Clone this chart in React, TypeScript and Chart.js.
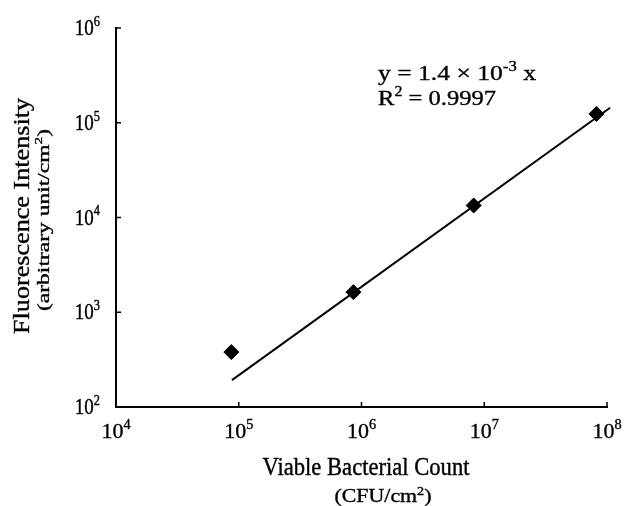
import React, { useEffect, useRef } from "react";
import { Chart, registerables } from "chart.js";

Chart.register(...registerables);

const FONT = '"Liberation Serif", "Times New Roman", serif';

const viableCounts = [8.7e4, 8.6e5, 8.2e6, 8.2e7];
const fluorescence = [380, 1630, 13400, 124000];

// Trend line end points
const fitCounts = [8.8e4, 1.06e8];
const fitFluorescence = [192, 1.44e5];

// Axis ticks (decades)
const xTickExponents = ["4", "5", "6", "7", "8"];
const yTickExponents = ["2", "3", "4", "5", "6"];
const tickBase = "10";

type Seg = { t: string; sup?: boolean };

const xTitle: Seg[] = [{ t: "Viable Bacterial Count" }];
const xSubtitle: Seg[] = [{ t: "(CFU/cm" }, { t: "2", sup: true }, { t: ")" }];
const yTitle: Seg[] = [{ t: "Fluorescence Intensity" }];
const ySubtitle: Seg[] = [{ t: "(arbitrary unit/cm" }, { t: "2", sup: true }, { t: ")" }];
const eqLine: Seg[] = [{ t: "y = 1.4 \u00d7 10" }, { t: "-3", sup: true }, { t: " x" }];
const r2Line: Seg[] = [{ t: "R" }, { t: "2", sup: true }, { t: " = 0.9997" }];

type DrawOpts = {
  size: number;
  align?: "left" | "center" | "right";
  rotate?: number;
  sx?: number;
  sy?: number;
  target?: number;
  supScale?: number;
  rise?: number;
};

function drawRich(ctx: CanvasRenderingContext2D, segs: Seg[], x: number, y: number, o: DrawOpts) {
  const supScale = o.supScale ?? 0.65;
  const rise = o.rise ?? 0.4;
  ctx.save();
  const widths: number[] = [];
  let w = 0;
  for (const s of segs) {
    ctx.font = `${s.sup ? o.size * supScale : o.size}px ${FONT}`;
    const mw = ctx.measureText(s.t).width;
    widths.push(mw);
    w += mw;
  }
  let sx = o.sx ?? 1;
  if (o.target) sx = o.target / w;
  ctx.translate(x, y);
  if (o.rotate) ctx.rotate(o.rotate);
  ctx.scale(sx, o.sy ?? 1);
  const align = o.align ?? "left";
  let cx = align === "center" ? -w / 2 : align === "right" ? -w : 0;
  ctx.textAlign = "left";
  ctx.textBaseline = "alphabetic";
  ctx.fillStyle = "#000";
  ctx.strokeStyle = "#000";
  ctx.lineWidth = 0.35;
  segs.forEach((s, i) => {
    ctx.font = `${s.sup ? o.size * supScale : o.size}px ${FONT}`;
    const yy = s.sup ? -o.size * rise : 0;
    ctx.fillText(s.t, cx, yy);
    ctx.strokeText(s.t, cx, yy);
    cx += widths[i];
  });
  ctx.restore();
}

const decorPlugin = {
  id: "decor",
  afterDraw(chart: any) {
    const ctx: CanvasRenderingContext2D = chart.ctx;
    const xs = chart.scales.x;
    const ys = chart.scales.y;
    const area = chart.chartArea;
    ctx.save();
    ctx.strokeStyle = "#000";
    ctx.lineWidth = 1.5;
    // inward tick marks
    xTickExponents.forEach((e) => {
      const px = xs.getPixelForValue(Math.pow(10, Number(e)));
      ctx.beginPath();
      ctx.moveTo(px, area.bottom);
      ctx.lineTo(px, area.bottom - 5);
      ctx.stroke();
    });
    yTickExponents.forEach((e) => {
      const py = ys.getPixelForValue(Math.pow(10, Number(e)));
      ctx.beginPath();
      ctx.moveTo(area.left, py);
      ctx.lineTo(area.left + 5, py);
      ctx.stroke();
    });
    ctx.restore();

    // tick labels
    xTickExponents.forEach((e) => {
      const px = xs.getPixelForValue(Math.pow(10, Number(e)));
      drawRich(ctx, [{ t: tickBase }, { t: e, sup: true }], px, area.bottom + 31, {
        size: 22,
        align: "center",
        sy: 1.0,
      });
    });
    yTickExponents.forEach((e) => {
      const py = ys.getPixelForValue(Math.pow(10, Number(e)));
      drawRich(ctx, [{ t: tickBase }, { t: e, sup: true }], area.left - 16, py + 7, {
        size: 19,
        align: "right",
        sy: 1.2,
      });
    });

    // axis titles
    drawRich(ctx, xTitle, 366, 475, { size: 22, align: "center", sy: 1.1, target: 207 });
    drawRich(ctx, xSubtitle, 383, 502, { size: 18, align: "center", target: 97 });
    drawRich(ctx, yTitle, 29, 216, { size: 23, align: "center", rotate: -Math.PI / 2, target: 236 });
    drawRich(ctx, ySubtitle, 49, 220, { size: 17, align: "center", rotate: -Math.PI / 2, target: 182 });

    // equation annotation
    drawRich(ctx, eqLine, 378, 80, { size: 22, target: 158 });
    drawRich(ctx, r2Line, 378, 105, { size: 22, target: 118 });
  },
};

export default function App() {
  const canvasRef = useRef<HTMLCanvasElement | null>(null);

  useEffect(() => {
    const canvas = canvasRef.current;
    if (!canvas) return;
    const chart = new Chart(canvas, {
      type: "scatter",
      data: {
        datasets: [
          {
            label: "fit",
            data: fitCounts.map((x, i) => ({ x, y: fitFluorescence[i] })),
            showLine: true,
            borderColor: "#000",
            borderWidth: 2,
            pointRadius: 0,
            pointHoverRadius: 0,
            clip: false as any,
            order: 2,
          },
          {
            label: "data",
            data: viableCounts.map((x, i) => ({ x, y: fluorescence[i] })),
            showLine: false,
            pointStyle: "rectRot",
            pointRadius: 7.5,
            pointHoverRadius: 7.5,
            backgroundColor: "#000",
            borderColor: "#000",
            borderWidth: 1,
            order: 1,
          },
        ],
      },
      options: {
        animation: false,
        responsive: false,
        events: [],
        layout: { padding: { left: 116, right: 24, top: 28, bottom: 99 } },
        plugins: { legend: { display: false }, tooltip: { enabled: false } },
        scales: {
          x: {
            type: "logarithmic",
            min: 1e4,
            max: 1e8,
            grid: { display: false, drawTicks: false, tickLength: 0 },
            ticks: { display: false },
            border: { display: true, color: "#000", width: 2 },
          },
          y: {
            type: "logarithmic",
            min: 1e2,
            max: 1e6,
            grid: { display: false, drawTicks: false, tickLength: 0 },
            ticks: { display: false },
            border: { display: true, color: "#000", width: 2 },
          },
        },
      },
      plugins: [decorPlugin],
    });
    return () => chart.destroy();
  }, []);

  return (
    <div style={{ position: "absolute", left: 0, top: 0, width: 631, height: 506, background: "#fff" }}>
      <canvas ref={canvasRef} width={631} height={506} style={{ display: "block" }} />
    </div>
  );
}
